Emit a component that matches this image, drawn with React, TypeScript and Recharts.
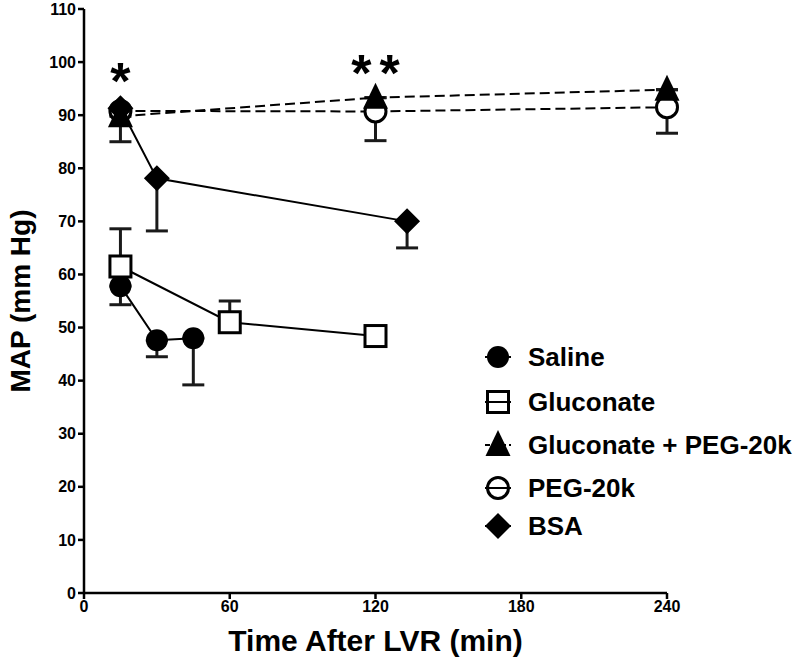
import React from 'react';
import { LineChart, Line, XAxis, YAxis, ErrorBar, ReferenceDot, Label } from 'recharts';

// ---- data ----
const salineTime = [15, 30, 45];
const salineMap = [57.8, 47.6, 48.0];
const salineErr: [number, number][] = [[3.5, 0], [3.1, 0], [8.8, 0]];

const gluconateTime = [15, 60, 120];
const gluconateMap = [61.5, 51.0, 48.4];
const gluconateErr: [number, number][] = [[0, 7.1], [0, 4.0], [0, 0]];

const gluPegTime = [15, 120, 240];
const gluPegMap = [89.8, 93.3, 94.8];
const gluPegErr: [number, number][] = [[4.8, 0], [0, 0], [0, 0]];

const pegTime = [15, 120, 240];
const pegMap = [90.8, 90.7, 91.5];
const pegErr: [number, number][] = [[0, 0], [5.5, 0], [4.9, 0]];

const bsaTime = [15, 30, 133];
const bsaMap = [91.3, 78.1, 70.0];
const bsaErr: [number, number][] = [[0, 0], [9.9, 0], [5.0, 0]];

const xTicks = [0, 60, 120, 180, 240];
const yTicks = [0, 10, 20, 30, 40, 50, 60, 70, 80, 90, 100, 110];

const legendNames = ['Saline', 'Gluconate', 'Gluconate + PEG-20k', 'PEG-20k', 'BSA'];

const build = (t: number[], m: number[], e: [number, number][]) =>
  t.map((v, i) => ({ t: v, map: m[i], err: e[i] }));

const saline = build(salineTime, salineMap, salineErr);
const gluconate = build(gluconateTime, gluconateMap, gluconateErr);
const gluPeg = build(gluPegTime, gluPegMap, gluPegErr);
const peg = build(pegTime, pegMap, pegErr);
const bsa = build(bsaTime, bsaMap, bsaErr);

const INK = '#000';
const FONT = '"Liberation Sans", Arial, sans-serif';

type Shape = 'circle' | 'square' | 'triangle' | 'ocircle' | 'diamond';

const marker = (shape: Shape, cx: number, cy: number, key?: any) => {
  switch (shape) {
    case 'circle':
      return <circle key={key} cx={cx} cy={cy} r={11} fill={INK} />;
    case 'square':
      return <rect key={key} x={cx - 10.5} y={cy - 10.5} width={21} height={21} fill="#fff" stroke={INK} strokeWidth={3} />;
    case 'triangle':
      return <polygon key={key} points={`${cx},${cy - 15} ${cx - 12.5},${cy + 11} ${cx + 12.5},${cy + 11}`} fill={INK} />;
    case 'ocircle':
      return <circle key={key} cx={cx} cy={cy} r={10.5} fill="#fff" stroke={INK} strokeWidth={3} />;
    case 'diamond':
      return <polygon key={key} points={`${cx},${cy - 13} ${cx + 13},${cy} ${cx},${cy + 13} ${cx - 13},${cy}`} fill={INK} />;
  }
};

const dotFn = (shape: Shape) => (p: any) => {
  if (p.cx == null || p.cy == null) return <g key={p.key} />;
  return marker(shape, p.cx, p.cy, p.key);
};

const Legendbox = () => {
  const rowY = [357, 402, 445, 488, 526];
  const shapes: Shape[] = ['circle', 'square', 'triangle', 'ocircle', 'diamond'];
  const dashed = [false, false, true, true, false];
  return (
    <svg width={800} height={665} style={{ position: 'absolute', left: 0, top: 0, pointerEvents: 'none' }}>
      {legendNames.map((n, i) => (
        <g key={n}>
          <line x1={485} x2={511} y1={rowY[i]} y2={rowY[i]} stroke={INK} strokeWidth={2} strokeDasharray={dashed[i] ? '5 3' : undefined} />
          {marker(shapes[i], 498, rowY[i])}
          {(shapes[i] === 'square' || shapes[i] === 'ocircle') && (
            <line x1={488} x2={508} y1={rowY[i]} y2={rowY[i]} stroke={INK} strokeWidth={2} />
          )}
          <text x={528} y={rowY[i]} dominantBaseline="central" fontFamily={FONT} fontWeight="bold" fontSize={26} fill={INK}>
            {n}
          </text>
        </g>
      ))}
    </svg>
  );
};

const YTitle = (props: any) => {
  const vb = props.viewBox || { y: 9, height: 584 };
  const cy = vb.y + vb.height / 2;
  return (
    <text x={20} y={cy} transform={`rotate(-90 20 ${cy})`} textAnchor="middle" dominantBaseline="central"
      fontFamily={FONT} fontWeight="bold" fontSize={28} fill={INK}>
      MAP (mm Hg)
    </text>
  );
};

const XTitle = (props: any) => {
  const vb = props.viewBox || { x: 84, width: 583 };
  const cx = vb.x + vb.width / 2;
  return (
    <text x={cx} y={640} textAnchor="middle" dominantBaseline="central"
      fontFamily={FONT} fontWeight="bold" fontSize={30} fill={INK}>
      Time After LVR (min)
    </text>
  );
};

const Star = (props: any) => {
  const { viewBox, value } = props;
  const cx = viewBox.x + (viewBox.width || 0) / 2;
  const cy = viewBox.y + (viewBox.height || 0) / 2;
  return (
    <text x={cx + 4} y={cy} textAnchor="middle" fontFamily={FONT} fontWeight="bold" fontSize={52} fill={INK} letterSpacing={8}>
      {value}
    </text>
  );
};

const tickStyle = { fontFamily: FONT, fontWeight: 'bold' as const, fontSize: 16, fill: INK };

const series: { data: any[]; shape: Shape; dash?: string; name: string }[] = [
  { data: saline, shape: 'circle', name: 'Saline' },
  { data: gluconate, shape: 'square', name: 'Gluconate' },
  { data: peg, shape: 'ocircle', dash: '10 5', name: 'PEG-20k' },
  { data: gluPeg, shape: 'triangle', dash: '10 5', name: 'Gluconate + PEG-20k' },
  { data: bsa, shape: 'diamond', name: 'BSA' },
];

export default function App() {
  return (
    <div style={{ position: 'absolute', left: 0, top: 0, width: 800, height: 665, background: '#fff' }}>
      <LineChart width={800} height={665} margin={{ top: 9, right: 133, bottom: 0, left: 0 }}>
        <XAxis
          dataKey="t"
          type="number"
          domain={[0, 240]}
          ticks={xTicks}
          stroke={INK}
          strokeWidth={2.5}
          tickSize={6}
          tick={tickStyle}
          tickLine={{ stroke: INK, strokeWidth: 2.5 }}
          height={72}
        >
          <Label content={<XTitle />} />
        </XAxis>
        <YAxis
          type="number"
          domain={[0, 110]}
          ticks={yTicks}
          interval={0}
          stroke={INK}
          strokeWidth={2.5}
          tickSize={6}
          tick={tickStyle}
          tickLine={{ stroke: INK, strokeWidth: 2.5 }}
          width={84}
        >
          <Label content={<YTitle />} />
        </YAxis>
        {series.map((s) => (
          <Line
            key={s.name + '-m'}
            data={s.data}
            dataKey="map"
            stroke="none"
            dot={dotFn(s.shape)}
            activeDot={false}
            isAnimationActive={false}
            legendType="none"
          >
            <ErrorBar dataKey="err" direction="y" width={11} strokeWidth={3} stroke="#1a1a1a" />
          </Line>
        ))}
        {series.map((s) => (
          <Line
            key={s.name + '-l'}
            data={s.data}
            dataKey="map"
            stroke={INK}
            strokeWidth={2}
            strokeDasharray={s.dash}
            dot={false}
            activeDot={false}
            isAnimationActive={false}
            type="linear"
          />
        ))}
        <ReferenceDot x={15} y={93} r={0} ifOverflow="visible" label={<Star value="*" />} />
        <ReferenceDot x={120} y={94.5} r={0} ifOverflow="visible" label={<Star value="**" />} />
      </LineChart>
      <Legendbox />
    </div>
  );
}
